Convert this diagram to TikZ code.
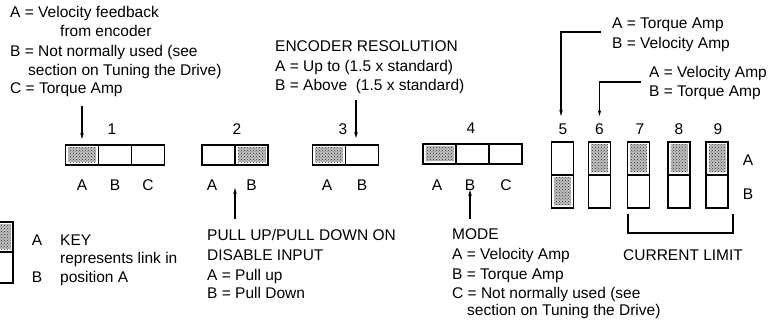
\documentclass[tikz,border=0pt]{standalone}
\usepackage{fontspec}
\setmainfont{Liberation Sans}
\usetikzlibrary{arrows.meta,patterns}
\begin{document}
\begin{tikzpicture}[x=1pt,y=-1pt,
 txt/.style={anchor=base west,inner sep=0pt,font=\fontsize{15.5}{18}\selectfont},
 ctxt/.style={anchor=base,inner sep=0pt,font=\fontsize{15.5}{18}\selectfont},
 cell/.style={draw,line width=1.3pt,inner sep=0pt,outer sep=0pt},
 hcell/.style={cell,minimum width=33pt,minimum height=20pt},
 vcell/.style={cell,minimum width=22pt,minimum height=33pt},
 shaded/.style={path picture={
   \fill[gray!50] ([shift={(2.5pt,-2.5pt)}]path picture bounding box.north west) rectangle ([shift={(-2.5pt,2.5pt)}]path picture bounding box.south east);
   \fill[pattern=crosshatch dots,pattern color=black!80] ([shift={(2.5pt,-2.5pt)}]path picture bounding box.north west) rectangle ([shift={(-2.5pt,2.5pt)}]path picture bounding box.south east);}},
 arr/.style={line width=1.1pt,-{Stealth[length=6pt,width=3.5pt]}},
 ln/.style={line width=1.1pt}]
\clip (0,0) rectangle (774,320);
\useasboundingbox (0,0) rectangle (774,320);

% ---------- top-left text ----------
\node[txt] (t1) at (10,17.5) {A = Velocity feedback};
\node[txt] (t2) at (60,36.5) {from encoder};
\node[txt] (t3) at (10,56.5) {B = Not normally used (see};
\node[txt] (t4) at (28,75.5) {section on Tuning the Drive)};
\node[txt] (t5) at (10,93.5) {C = Torque Amp};

% ---------- encoder text ----------
\node[txt] (e1) at (275,51.5) {ENCODER RESOLUTION};
\node[txt] (e2) at (275,72) {A = Up to (1.5 x standard)};
\node[txt] (e3) at (275,91) {B = Above\ \ (1.5 x standard)};

% ---------- top-right text ----------
\node[txt] (r1) at (612,28.5) {A = Torque Amp};
\node[txt] (r2) at (612,48.5) {B = Velocity Amp};
\node[txt] (r3) at (649,77.5) {A = Velocity Amp};
\node[txt] (r4) at (649,96.5) {B = Torque Amp};

% ---------- block 1 ----------
\node[hcell,shaded] (b1a) at (82,155) {};
\node[hcell] (b1b) at (115,155) {};
\node[hcell] (b1c) at (148,155) {};
\node[ctxt] (n1) at (112,135) {1};
\node[ctxt] (l1a) at (82,190.5) {A};
\node[ctxt] (l1b) at (115,190.5) {B};
\node[ctxt] (l1c) at (148,190.5) {C};

% ---------- block 2 ----------
\node[hcell] (b2a) at (218.5,155) {};
\node[hcell,shaded] (b2b) at (251.5,155) {};
\node[ctxt] (n2) at (237,135) {2};
\node[ctxt] (l2a) at (212,190.5) {A};
\node[ctxt] (l2b) at (251.5,190.5) {B};

% ---------- block 3 ----------
\node[hcell,shaded] (b3a) at (329,155) {};
\node[hcell] (b3b) at (362,155) {};
\node[ctxt] (n3) at (343,135) {3};
\node[ctxt] (l3a) at (327,190.5) {A};
\node[ctxt] (l3b) at (362,190.5) {B};

% ---------- block 4 ----------
\node[hcell,shaded] (b4a) at (439.5,154) {};
\node[hcell] (b4b) at (472.5,154) {};
\node[hcell] (b4c) at (505.5,154) {};
\node[ctxt] (n4) at (471,134) {4};
\node[ctxt] (l4a) at (437,190.5) {A};
\node[ctxt] (l4b) at (470,190.5) {B};
\node[ctxt] (l4c) at (506,190.5) {C};

% ---------- vertical links 5-9 ----------
\node[vcell] (c5a) at (562.5,158.5) {};
\node[vcell,shaded] (c5b) at (562.5,191.5) {};
\node[vcell,shaded] (c6a) at (599.5,158.5) {};
\node[vcell] (c6b) at (599.5,191.5) {};
\node[vcell,shaded] (c7a) at (638.5,158.5) {};
\node[vcell] (c7b) at (638.5,191.5) {};
\node[vcell,shaded] (c8a) at (679,158.5) {};
\node[vcell] (c8b) at (679,191.5) {};
\node[vcell,shaded] (c9a) at (717,158.5) {};
\node[vcell] (c9b) at (717,191.5) {};
\node[ctxt] (n5) at (563,135) {5};
\node[ctxt] (n6) at (599.5,135) {6};
\node[ctxt] (n7) at (640,135) {7};
\node[ctxt] (n8) at (679,135) {8};
\node[ctxt] (n9) at (718,135) {9};
\node[ctxt] (ra) at (748,165.5) {A};
\node[ctxt] (rb) at (748,199.5) {B};

% bracket + current limit
\coordinate (brL) at (628,214);
\coordinate (brR) at (733,214);
\draw[ln] (brL) -- ++(0,19) -| (brR);
\node[txt] (cl) at (623,260.5) {CURRENT LIMIT};

% ---------- arrows ----------
\coordinate (a1s) at (82,106);
\draw[arr] (a1s) -- ([yshift=6pt]b1a.north);
\coordinate (a2s) at (235,219);
\coordinate (a2e) at (235,188);
\draw[arr] (a2s) -- (a2e);
\coordinate (a3s) at (356,100);
\coordinate (a3e) at (356,138);
\draw[arr] (a3s) -- (a3e);
\coordinate (a4s) at (470,219);
\coordinate (a4e) at (470,190);
\draw[arr] (a4s) -- (a4e);
\coordinate (a5s) at (601,32);
\coordinate (a5e) at (561,116);
\draw[arr] (a5s) -| (a5e);
\coordinate (a6s) at (641,82);
\coordinate (a6e) at (599.5,116);
\draw[arr] (a6s) -| (a6e);

% ---------- bottom texts ----------
\node[txt] (p1) at (207,240.5) {PULL UP/PULL DOWN ON};
\node[txt] (p2) at (207,260.5) {DISABLE INPUT};
\node[txt] (p3) at (207,280.5) {A = Pull up};
\node[txt] (p4) at (207,298.5) {B = Pull Down};

\node[txt] (m1) at (452,240) {MODE};
\node[txt] (m2) at (452,260) {A = Velocity Amp};
\node[txt] (m3) at (452,279.5) {B = Torque Amp};
\node[txt] (m4) at (452,298.5) {C = Not normally used (see};
\node[txt] (m5) at (467,315.5) {section on Tuning the Drive)};

% ---------- key ----------
\node[vcell,shaded,minimum height=30pt] (k1) at (2,237) {};
\node[vcell,minimum height=31pt] (k2) at (2,267.5) {};
\node[ctxt] (ka) at (37,245.5) {A};
\node[txt] (kt1) at (60,245.5) {KEY};
\node[txt] (kt2) at (60,263.5) {represents link in};
\node[ctxt] (kb) at (37,282.5) {B};
\node[txt] (kt3) at (60,282.5) {position A};
\end{tikzpicture}
\end{document}
